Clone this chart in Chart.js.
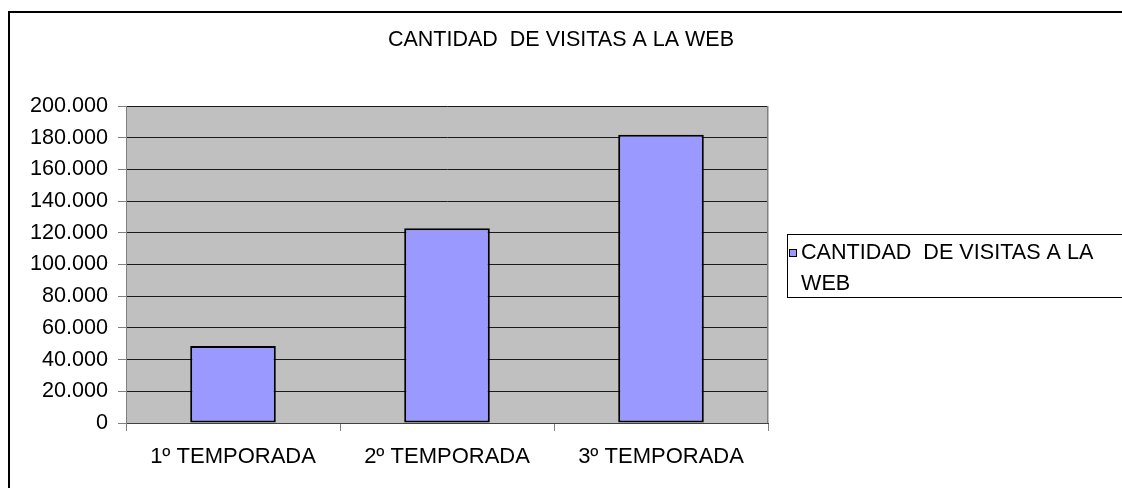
<!DOCTYPE html>
<html>
<head>
<meta charset="utf-8">
<script src="https://cdn.jsdelivr.net/npm/chart.js@4/dist/chart.umd.min.js"></script>
<style>
html,body{margin:0;padding:0;background:#fff;}
#c{display:block;}
</style>
</head>
<body>
<canvas id="c" width="1122" height="488"></canvas>
<script>
// ---- data ----
const chartTitle = 'CANTIDAD  DE VISITAS A LA WEB';
const seriesLabel = 'CANTIDAD  DE VISITAS A LA WEB';
const categories = ['1º TEMPORADA', '2º TEMPORADA', '3º TEMPORADA'];
const visitas = [48600, 122800, 181900];
const yTickValues = [0, 20000, 40000, 60000, 80000, 100000, 120000, 140000, 160000, 180000, 200000];
const yTickLabels = ['0', '20.000', '40.000', '60.000', '80.000', '100.000', '120.000', '140.000', '160.000', '180.000', '200.000'];

const FONT = "'Liberation Sans', Arial, sans-serif";
Chart.defaults.font.family = FONT;
Chart.defaults.color = '#000';

const decor = {
  id: 'decor',
  afterLayout(chart) {
    const t = chart.titleBlock;
    if (t) { t.left = 0; t.right = chart.width; t.width = chart.width; }
  },
  beforeDraw(chart) {
    const ctx = chart.ctx, a = chart.chartArea;
    ctx.save();
    ctx.fillStyle = '#fff';
    ctx.fillRect(0, 0, chart.width, chart.height);
    // outer frame
    ctx.strokeStyle = '#000';
    ctx.lineWidth = 2;
    ctx.beginPath();
    ctx.moveTo(9, chart.height + 2);
    ctx.lineTo(9, 12);
    ctx.lineTo(chart.width + 2, 12);
    ctx.stroke();
    // plot area background
    ctx.fillStyle = '#C0C0C0';
    ctx.fillRect(a.left, a.top, a.right - a.left, a.bottom - a.top);
    ctx.restore();
  },
  afterDraw(chart) {
    const ctx = chart.ctx, a = chart.chartArea;
    ctx.save();
    // right plot border
    ctx.strokeStyle = '#808080';
    ctx.lineWidth = 1.5;
    ctx.beginPath();
    ctx.moveTo(a.right - 0.25, a.top);
    ctx.lineTo(a.right - 0.25, a.bottom);
    ctx.stroke();
    // legend
    const ds = chart.data.datasets[0];
    const bx = 787.5, by = 234.5;
    ctx.fillStyle = '#fff';
    ctx.fillRect(bx, by, 400, 63);
    ctx.strokeStyle = '#000';
    ctx.lineWidth = 1;
    ctx.strokeRect(bx, by, 400, 63);
    ctx.fillStyle = ds.backgroundColor;
    ctx.fillRect(789.5, 249.5, 7, 7);
    ctx.strokeRect(789.5, 249.5, 7, 7);
    ctx.font = '21.6px ' + FONT;
    ctx.fillStyle = '#000';
    ctx.textBaseline = 'alphabetic';
    ctx.textAlign = 'left';
    const maxW = chart.width - 801;
    const words = ds.label.split(' ');
    const lines = [];
    let cur = '';
    words.forEach((w, i) => {
      const test = i === 0 ? w : cur + ' ' + w;
      if (i > 0 && w !== '' && ctx.measureText(test).width > maxW) {
        lines.push(cur);
        cur = w;
      } else {
        cur = test;
      }
    });
    lines.push(cur);
    lines.forEach((l, i) => ctx.fillText(l, 801, 258.5 + i * 31.7));
    ctx.restore();
  }
};

new Chart(document.getElementById('c'), {
  type: 'bar',
  data: {
    labels: categories,
    datasets: [{
      label: seriesLabel,
      data: visitas,
      backgroundColor: '#9999FF',
      borderColor: '#000',
      borderWidth: 2,
      borderSkipped: false,
      categoryPercentage: 1.0,
      barPercentage: 0.4
    }]
  },
  options: {
    responsive: false,
    devicePixelRatio: 1,
    animation: false,
    layout: { padding: { left: 0, right: 354, top: 0, bottom: 0 } },
    plugins: {
      legend: { display: false },
      tooltip: { enabled: false },
      title: {
        display: true,
        text: chartTitle,
        color: '#000',
        font: { family: FONT, size: 21.5, weight: 'normal', lineHeight: 1.2 },
        padding: { top: 26.8, bottom: 53.4 }
      }
    },
    scales: {
      x: {
        type: 'category',
        offset: true,
        afterFit(s) { s.height = 65; },
        grid: {
          offset: true,
          drawOnChartArea: false,
          drawTicks: true,
          tickLength: 8,
          tickColor: '#808080',
          tickWidth: 1
        },
        border: { display: true, color: '#404040', width: 1 },
        ticks: {
          color: '#000',
          font: { family: FONT, size: 22 },
          padding: 12.6,
          maxRotation: 0,
          autoSkip: false
        }
      },
      y: {
        min: 0,
        max: 200000,
        afterFit(s) { s.width = 126; },
        afterBuildTicks(s) { s.ticks = yTickValues.map(v => ({ value: v })); },
        grid: {
          color: '#1a1a1a',
          lineWidth: 1,
          drawTicks: true,
          tickLength: 8,
          tickColor: '#808080',
          tickWidth: 1
        },
        border: { display: true, color: '#808080', width: 1 },
        ticks: {
          color: '#000',
          font: { family: FONT, size: 21.6 },
          padding: 10,
          callback(value) {
            const i = yTickValues.indexOf(value);
            return i >= 0 ? yTickLabels[i] : '';
          }
        }
      }
    }
  },
  plugins: [decor]
});
</script>
</body>
</html>
